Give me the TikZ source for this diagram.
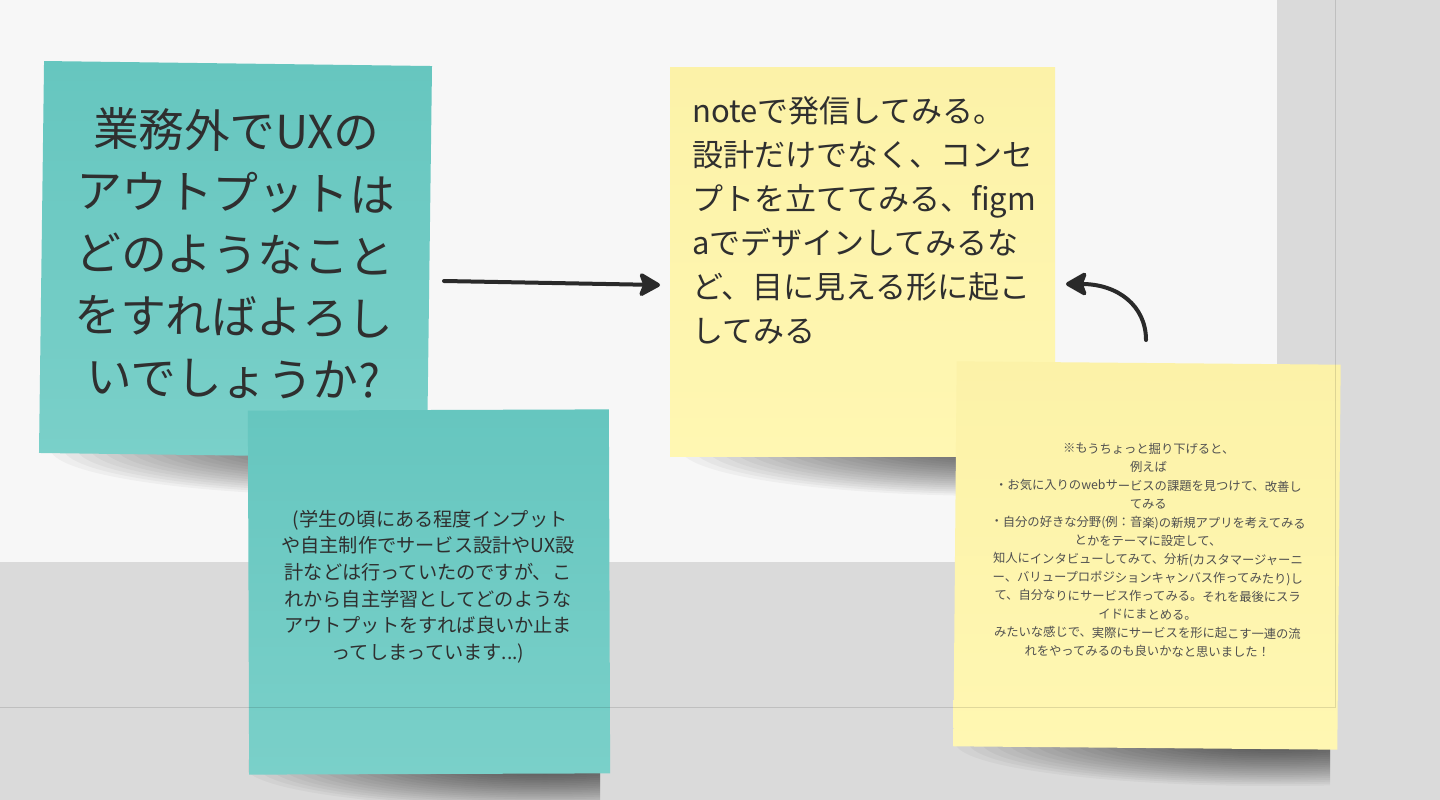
\documentclass[tikz,border=0pt]{standalone}
\usepackage{fontspec}
\setmainfont{Noto Sans CJK JP}
\usetikzlibrary{arrows.meta}
\definecolor{bg}{HTML}{DADADA}
\definecolor{panel}{HTML}{F7F7F7}
\definecolor{tealA}{HTML}{66C6BF}
\definecolor{tealB}{HTML}{7AD0C9}
\definecolor{yelA}{HTML}{FCF2A8}
\definecolor{yelB}{HTML}{FFF7B2}
\definecolor{ink}{HTML}{2F2F2F}
\definecolor{smallink}{HTML}{505050}
\definecolor{arrowc}{HTML}{2A2A2A}
\newcommand{\softshadow}[6]{% cx cy rx ry clipleft clipright
  \begin{scope}
    \clip (#5,#2-50) rectangle (#6,#2+60);
    \foreach \k in {1,...,24}
      \fill[black,opacity=0.034] (#1,#2) ellipse [x radius=\k/24*#3, y radius=\k/24*#4];
  \end{scope}}
\begin{document}
\begin{tikzpicture}[x=1pt,y=-1pt,
  note/.style={draw=none, inner sep=0pt, outer sep=0pt},
  tealnote/.style={note, top color=tealA, bottom color=tealB},
  yellownote/.style={note, top color=yelA, bottom color=yelB},
  conn/.style={draw=arrowc, line width=4pt, line cap=round,
    -{Stealth[length=24pt,width=27pt,inset=5pt,round]}},
  txt/.style={inner sep=0pt, text=ink}]
\useasboundingbox (0,0) rectangle (1440,800);
% background
\fill[bg] (0,0) rectangle (1440,800);
\fill[panel] (0,0) rectangle (1277,562);
% first layer: shadows and notes
\softshadow{370}{448}{320}{48}{39}{424}
\softshadow{1000}{448}{320}{48}{670}{1050}
\node[tealnote, minimum width=388pt, minimum height=392pt, rotate=-0.74] (n1) at (235.5,259.5) {};
\node[yellownote, minimum width=385pt, minimum height=388pt] (n3) at (862.5,262) {};
% second layer
\softshadow{545}{766}{300}{42}{248}{600}
\softshadow{1275}{742}{320}{44}{952}{1330}
\node[tealnote, minimum width=361pt, minimum height=364pt, rotate=0.2] (n2) at (429,592) {};
\node[yellownote, minimum width=384pt, minimum height=385pt, rotate=-0.5] (n4) at (1147,555.5) {};
% faint guide lines
\draw[black, opacity=0.12, line width=1pt] (1335,0) -- (1335,707) -- (0,707);
% texts
\node[txt, font=\fontsize{45.5pt}{62pt}\selectfont, align=center, rotate=-0.74] (t1) at (235,254)
  {業務外でUXの\\アウトプットは\\どのようなこと\\をすればよろし\\いでしょうか?};
\node[txt, font=\fontsize{31pt}{44pt}\selectfont, align=left, anchor=west] (t3) at (692,220)
  {noteで発信してみる。\\設計だけでなく、コンセ\\プトを立ててみる、figm\\aでデザインしてみるな\\ど、目に見える形に起こ\\してみる};
\node[txt, font=\fontsize{19.2pt}{26.6pt}\selectfont, align=center] (t2) at (428,586.5)
  {\ (学生の頃にある程度インプット\\や自主制作でサービス設計やUX設\\計などは行っていたのですが、こ\\れから自主学習としてどのような\\アウトプットをすれば良いか止ま\\ってしまっています...)};
\node[txt, text=smallink, font=\fontsize{12.3pt}{18.4pt}\selectfont, align=center, rotate=-0.4] (t4) at (1148,550)
  {※もうちょっと掘り下げると、\\例えば\\・お気に入りのwebサービスの課題を見つけて、改善し\\てみる\\・自分の好きな分野(例：音楽)の新規アプリを考えてみる\\とかをテーマに設定して、\\知人にインタビューしてみて、分析(カスタマージャーニ\\ー、バリュープロポジションキャンバス作ってみたり)し\\て、自分なりにサービス作ってみる。それを最後にスラ\\イドにまとめる。\\みたいな感じで、実際にサービスを形に起こす一連の流\\れをやってみるのも良いかなと思いました！};
% connectors
\coordinate (a1s) at (444,281);
\coordinate (a1e) at (660,285);
\coordinate (a2s) at (1146,340);
\coordinate (a2e) at (1066,284);
\draw[conn] (a1s) -- (a1e);
\draw[conn] (a2s) .. controls (1146,306) and (1118,284) .. (a2e);
\end{tikzpicture}
\end{document}
